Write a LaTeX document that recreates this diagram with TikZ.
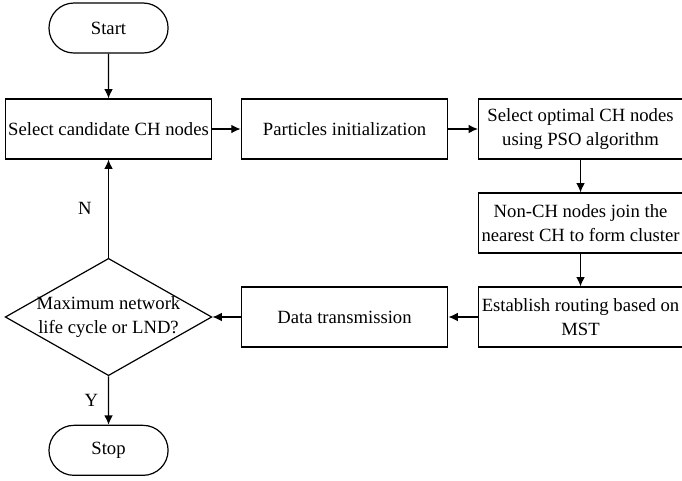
\documentclass[tikz,border=0pt]{standalone}
\usepackage{fontspec}
\setmainfont{Liberation Serif}
\usetikzlibrary{positioning,shapes.geometric,shapes.misc,arrows.meta}
\begin{document}
\begin{tikzpicture}[
  node distance=177pt,
  font=\fontsize{14}{17.5}\selectfont,
  terminal/.style={rounded rectangle, draw, line width=0.9pt, fill=white, minimum width=96pt, minimum height=37.5pt},
  process/.style={rectangle, draw, line width=0.9pt, fill=white, align=center, inner sep=1pt, minimum width=155pt, minimum height=45pt},
  decision/.style={diamond, draw, line width=0.9pt, aspect=1.77, inner sep=0pt, minimum width=155pt, minimum height=88pt},
  arrow/.style={->, >={Latex[length=7pt,width=6.5pt]}, line width=0.9pt}
]
  \useasboundingbox (-81.4pt,21pt) rectangle (430.1pt,-339pt);

  % Define flow nodes
  \node[terminal] (start) {Start};
  \node[process, below of=start, node distance=75.75pt] (select) {Select candidate CH nodes};
  \node[process, right of=select] (init) {Particles initialization};
  \node[process, right of=init, minimum width=153pt] (optimal) {Select optimal CH nodes\\using PSO algorithm};
  \node[process, below of=optimal, node distance=70.5pt, minimum width=153pt] (join) {Non-CH nodes join the\\nearest CH to form cluster};
  \node[process, below of=join, node distance=70.5pt, minimum width=153pt] (routing) {Establish routing based on\\MST};
  \node[process, left of=routing] (transmit) {Data transmission};
  \node[decision, left of=transmit] (check) {};
  \node[align=center] (checktext) at (check) {Maximum network\\life cycle or LND?};
  \node[terminal, below of=check, node distance=100pt] (stop) {Stop};

  % Draw arrows
  \draw[arrow] (start) -- (select);
  \draw[arrow] (select) -- (init);
  \draw[arrow] (init) -- (optimal);
  \draw[arrow] (optimal) -- (join);
  \draw[arrow] (join) -- (routing);
  \draw[arrow] (routing) -- (transmit);
  \draw[arrow] (transmit) -- (check);
  \draw[arrow] (check) -- node[left=9pt] (no) {N} (select);
  \draw[arrow] (check) -- node[left=4pt] (yes) {Y} (stop);
\end{tikzpicture}
\end{document}
